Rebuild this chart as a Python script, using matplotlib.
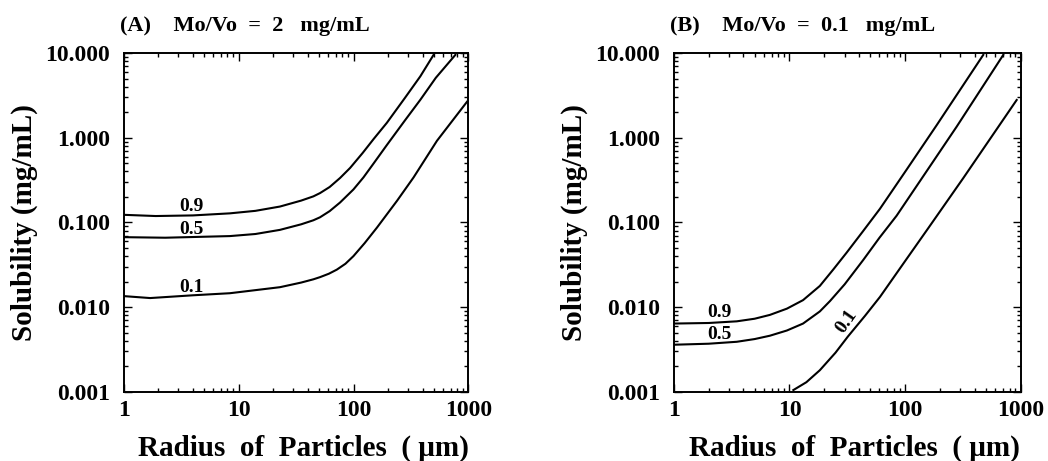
import matplotlib.pyplot as plt
from matplotlib.ticker import LogLocator, FixedLocator, FixedFormatter, NullFormatter

plt.rcParams['font.family'] = ['Liberation Serif', 'DejaVu Serif']
plt.rcParams['font.weight'] = 'bold'
plt.rcParams['axes.labelweight'] = 'bold'
plt.rcParams['axes.titleweight'] = 'bold'

# Panel A  (Mo/Vo = 2 mg/mL)
a_x_09 = [1, 1.9, 4, 8.4, 14, 22.9, 35, 44.7, 51.1, 62, 76.4, 93.4, 120, 150, 195, 280, 381, 497]
a_y_09 = [0.123, 0.119, 0.121, 0.128, 0.137, 0.154, 0.181, 0.203, 0.222, 0.262, 0.335, 0.44, 0.66, 0.97, 1.5, 2.95, 5.3, 9.5]
a_x_05 = [1, 2.3, 8.4, 14, 22.9, 35, 44.7, 51.1, 62, 76.4, 99.8, 122, 150, 195, 280, 381, 520, 769]
a_y_05 = [0.067, 0.066, 0.069, 0.073, 0.0817, 0.095, 0.106, 0.115, 0.136, 0.172, 0.245, 0.34, 0.50, 0.82, 1.6, 2.8, 5.1, 9.5]
a_x_01 = [1, 1.7, 4, 8.4, 22.9, 35, 44.7, 51.1, 61, 71.5, 85, 99.8, 125, 160, 239, 333, 532, 972]
a_y_01 = [0.0135, 0.0128, 0.0138, 0.0146, 0.0172, 0.0195, 0.0213, 0.0226, 0.0248, 0.0277, 0.0325, 0.040, 0.057, 0.087, 0.18, 0.34, 0.92, 2.66]

# Panel B  (Mo/Vo = 0.1 mg/mL)
b_x_09 = [1, 2, 3.5, 5, 6.77, 9.5, 13.1, 18.3, 24, 31.2, 43, 60.6, 103, 187, 474]
b_y_09 = [0.0064, 0.0065, 0.0068, 0.0073, 0.0081, 0.0096, 0.0121, 0.0178, 0.028, 0.044, 0.078, 0.145, 0.42, 1.4, 9.5]
b_x_05 = [1, 2, 3.5, 5, 6.77, 9.5, 13.1, 18.3, 22.4, 30, 43.4, 60, 84.4, 153, 279, 706]
b_y_05 = [0.0036, 0.0037, 0.0039, 0.0042, 0.0046, 0.0053, 0.0064, 0.0089, 0.0118, 0.0186, 0.036, 0.066, 0.12, 0.40, 1.35, 9.5]
b_x_01 = [10.8, 14, 18.3, 25, 32, 45, 60.6, 100, 158, 318, 922]
b_y_01 = [0.00105, 0.0013, 0.0018, 0.0029, 0.0045, 0.0079, 0.0132, 0.035, 0.085, 0.333, 2.79]

fractions = ['0.9', '0.5', '0.1']
y_ticks = [0.001, 0.01, 0.1, 1, 10]
y_tick_labels = ['0.001', '0.010', '0.100', '1.000', '10.000']
x_ticks = [1, 10, 100, 1000]
x_tick_labels = ['1', '10', '100', '1000']


def setup_axes(ax, title):
    ax.set_xscale('log')
    ax.set_yscale('log')
    ax.set_xlim(1, 1000)
    ax.set_ylim(0.001, 10)
    ax.xaxis.set_major_locator(FixedLocator(x_ticks))
    ax.xaxis.set_major_formatter(FixedFormatter(x_tick_labels))
    ax.yaxis.set_major_locator(FixedLocator(y_ticks))
    ax.yaxis.set_major_formatter(FixedFormatter(y_tick_labels))
    ax.xaxis.set_minor_locator(LogLocator(base=10, subs=range(2, 10)))
    ax.yaxis.set_minor_locator(LogLocator(base=10, subs=range(2, 10)))
    ax.xaxis.set_minor_formatter(NullFormatter())
    ax.yaxis.set_minor_formatter(NullFormatter())
    ax.tick_params(which='both', direction='in', top=True, right=True, width=1.0)
    ax.tick_params(which='major', length=6, labelsize=17)
    ax.tick_params(which='minor', length=3)
    ax.tick_params(axis='x', pad=6)
    ax.tick_params(axis='y', pad=10)
    for sp in ax.spines.values():
        sp.set_linewidth(1.4)
    ax.set_xlabel('Radius  of  Particles  ( \u03bcm)', fontsize=21)
    ax.xaxis.set_label_coords(0.52, -0.125)
    ax.set_ylabel('Solubility (mg/mL)', fontsize=21, labelpad=5)
    ax.set_title(title, fontsize=16, loc='left', pad=16, x=-0.01)


fig = plt.figure(figsize=(10.48, 4.61), dpi=100)
ax_a = fig.add_axes([0.118, 0.150, 0.329, 0.735])
ax_b = fig.add_axes([0.643, 0.150, 0.331, 0.735])

ax_a.plot(a_x_09, a_y_09, c='k', lw=1.5)
ax_a.plot(a_x_05, a_y_05, c='k', lw=1.5)
ax_a.plot(a_x_01, a_y_01, c='k', lw=1.5)
ax_a.text(3.9, 0.153, fractions[0], fontsize=14, ha='center', va='center')
ax_a.text(3.9, 0.0815, fractions[1], fontsize=14, ha='center', va='center')
ax_a.text(3.9, 0.0172, fractions[2], fontsize=14, ha='center', va='center')
setup_axes(ax_a, '(A)    Mo/Vo  =  2   mg/mL')

ax_b.plot(b_x_09, b_y_09, c='k', lw=1.5)
ax_b.plot(b_x_05, b_y_05, c='k', lw=1.5)
ax_b.plot(b_x_01, b_y_01, c='k', lw=1.5)
ax_b.text(2.47, 0.0087, fractions[0], fontsize=14, ha='center', va='center')
ax_b.text(2.47, 0.0047, fractions[1], fontsize=14, ha='center', va='center')
ax_b.text(31, 0.0068, fractions[2], fontsize=14, ha='center', va='center', rotation=55)
setup_axes(ax_b, '(B)    Mo/Vo  =  0.1   mg/mL')

fig.savefig('out.png', dpi=100)
